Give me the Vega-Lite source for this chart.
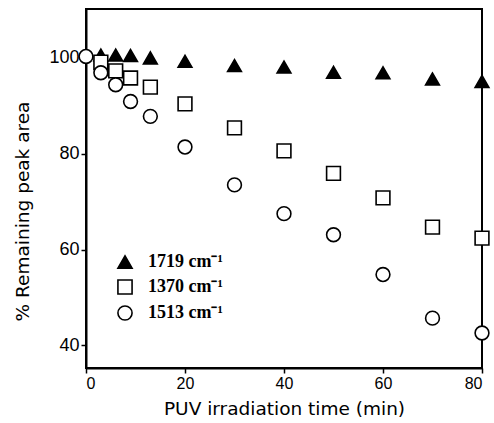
{
  "$schema": "https://vega.github.io/schema/vega-lite/v6.json",
  "autosize": "none",
  "width": 396,
  "height": 359,
  "padding": {"left": 86, "top": 9, "right": 12, "bottom": 55},
  "background": "white",
  "config": {
    "view": {"stroke": "black", "strokeWidth": 2},
    "axis": {
      "grid": false,
      "domainColor": "black",
      "domainWidth": 2,
      "tickColor": "black",
      "tickWidth": 1.5,
      "tickSize": 5,
      "labelFont": "Liberation Sans",
      "labelFontSize": 17,
      "labelColor": "black",
      "labelPadding": 2,
      "titleFont": "DejaVu Sans",
      "titleFontWeight": "normal",
      "titleFontSize": 18.5,
      "titleColor": "black"
    },
    "legend": {
      "orient": "none",
      "padding": 0,
      "symbolSize": 200,
      "symbolStrokeWidth": 1.6,
      "labelFont": "Liberation Serif",
      "labelFontWeight": "bold",
      "labelFontSize": 18,
      "labelColor": "black",
      "labelOffset": 14,
      "rowPadding": 4
    }
  },
  "data": {
    "values": [
      {"t": 3, "v": 100.6, "series": "1719 cm⁻¹"},
      {"t": 6, "v": 100.6, "series": "1719 cm⁻¹"},
      {"t": 9, "v": 100.5, "series": "1719 cm⁻¹"},
      {"t": 13, "v": 100.0, "series": "1719 cm⁻¹"},
      {"t": 20, "v": 99.3, "series": "1719 cm⁻¹"},
      {"t": 30, "v": 98.4, "series": "1719 cm⁻¹"},
      {"t": 40, "v": 98.1, "series": "1719 cm⁻¹"},
      {"t": 50, "v": 97.0, "series": "1719 cm⁻¹"},
      {"t": 60, "v": 96.9, "series": "1719 cm⁻¹"},
      {"t": 70, "v": 95.6, "series": "1719 cm⁻¹"},
      {"t": 80, "v": 95.1, "series": "1719 cm⁻¹"},
      {"t": 3, "v": 99.1, "series": "1370 cm⁻¹"},
      {"t": 6, "v": 97.3, "series": "1370 cm⁻¹"},
      {"t": 9, "v": 95.8, "series": "1370 cm⁻¹"},
      {"t": 13, "v": 93.9, "series": "1370 cm⁻¹"},
      {"t": 20, "v": 90.4, "series": "1370 cm⁻¹"},
      {"t": 30, "v": 85.4, "series": "1370 cm⁻¹"},
      {"t": 40, "v": 80.6, "series": "1370 cm⁻¹"},
      {"t": 50, "v": 75.9, "series": "1370 cm⁻¹"},
      {"t": 60, "v": 70.8, "series": "1370 cm⁻¹"},
      {"t": 70, "v": 64.7, "series": "1370 cm⁻¹"},
      {"t": 80, "v": 62.4, "series": "1370 cm⁻¹"},
      {"t": 0, "v": 100.3, "series": "1513 cm⁻¹"},
      {"t": 3, "v": 96.9, "series": "1513 cm⁻¹"},
      {"t": 6, "v": 94.4, "series": "1513 cm⁻¹"},
      {"t": 9, "v": 90.9, "series": "1513 cm⁻¹"},
      {"t": 13, "v": 87.8, "series": "1513 cm⁻¹"},
      {"t": 20, "v": 81.4, "series": "1513 cm⁻¹"},
      {"t": 30, "v": 73.5, "series": "1513 cm⁻¹"},
      {"t": 40, "v": 67.5, "series": "1513 cm⁻¹"},
      {"t": 50, "v": 63.1, "series": "1513 cm⁻¹"},
      {"t": 60, "v": 54.8, "series": "1513 cm⁻¹"},
      {"t": 70, "v": 45.7, "series": "1513 cm⁻¹"},
      {"t": 80, "v": 42.6, "series": "1513 cm⁻¹"}
    ]
  },
  "mark": {"type": "point", "strokeWidth": 1.6, "opacity": 1, "fillOpacity": 1, "size": 190, "clip": false},
  "encoding": {
    "x": {
      "field": "t", "type": "quantitative",
      "scale": {"domain": [0, 80], "nice": false, "zero": false},
      "axis": {"values": [0, 20, 40, 60, 80], "title": "PUV irradiation time (min)", "titlePadding": 8, "labelFontSize": 16}
    },
    "y": {
      "field": "v", "type": "quantitative",
      "scale": {"domain": [35.3, 110.2], "nice": false, "zero": false},
      "axis": {"values": [40, 60, 80, 100], "title": "% Remaining peak area", "titleX": -54, "titleY": 202, "labelFontSize": 18}
    },
    "shape": {
      "field": "series", "type": "nominal",
      "scale": {"domain": ["1719 cm⁻¹", "1370 cm⁻¹", "1513 cm⁻¹"], "range": ["triangle-up", "square", "circle"]},
      "legend": {"title": null, "legendX": 30, "legendY": 244}
    },
    "fill": {
      "field": "series", "type": "nominal",
      "scale": {"domain": ["1719 cm⁻¹", "1370 cm⁻¹", "1513 cm⁻¹"], "range": ["black", "white", "white"]},
      "legend": {"title": null, "legendX": 30, "legendY": 244}
    },
    "stroke": {
      "field": "series", "type": "nominal",
      "scale": {"domain": ["1719 cm⁻¹", "1370 cm⁻¹", "1513 cm⁻¹"], "range": ["black", "black", "black"]},
      "legend": {"title": null, "legendX": 30, "legendY": 244}
    }
  }
}
